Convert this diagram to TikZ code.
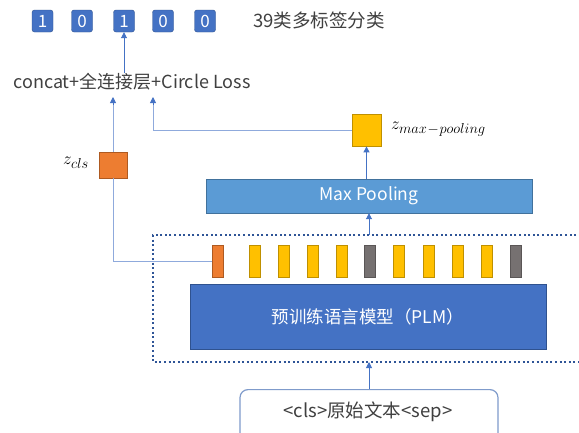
\documentclass[tikz,border=0pt]{standalone}
\usepackage{fontspec}
\setmainfont{Noto Sans CJK SC}
\usetikzlibrary{arrows.meta,calc}
\definecolor{accblue}{HTML}{4472C4}
\definecolor{accblueD}{HTML}{2F528F}
\definecolor{poolblue}{HTML}{5B9BD5}
\definecolor{poolblueD}{HTML}{41719C}
\definecolor{tokorange}{HTML}{ED7D31}
\definecolor{tokorangeD}{HTML}{AE5A21}
\definecolor{tokyellow}{HTML}{FFC000}
\definecolor{tokyellowD}{HTML}{BF9000}
\definecolor{tokgray}{HTML}{767171}
\definecolor{tokgrayD}{HTML}{5A5656}
\definecolor{txtgray}{HTML}{404040}
\definecolor{linkblue}{HTML}{8FAADC}
\definecolor{framblue}{HTML}{2F5597}
\definecolor{inborder}{HTML}{7F9BCB}
\newcommand{\fsz}[1]{\fontsize{#1}{#1}\selectfont}
\begin{document}
\begin{tikzpicture}[x=1pt,y=-1pt,
  bit/.style={draw=accblueD,fill=accblue,rounded corners=2.5pt,minimum width=21pt,minimum height=22pt,inner sep=0pt,text=white,font=\fsz{17}},
  tok/.style={minimum width=11pt,minimum height=32pt,inner sep=0pt,line width=0.8pt},
  tokO/.style={tok,draw=tokorangeD,fill=tokorange},
  tokY/.style={tok,draw=tokyellowD,fill=tokyellow},
  tokG/.style={tok,draw=tokgrayD,fill=tokgray},
  vec/.style={inner sep=0pt,line width=0.8pt},
  arr/.style={draw=accblue,line width=0.9pt,-{Triangle[length=6pt,width=6pt]}},
  link/.style={draw=linkblue,line width=0.9pt},
  lbl/.style={text=txtgray,inner sep=0pt}]
\useasboundingbox (0,0) rectangle (579,432);
\fill[white] (0,0) rectangle (579,432);

% output label vector
\node[bit] (b1) at (42.5,21) {1};
\node[bit] (b2) at (82,21) {0};
\node[bit] (b3) at (124,21) {1};
\node[bit] (b4) at (163,21) {0};
\node[bit] (b5) at (205,21) {0};
\node[lbl,anchor=west,font=\fsz{18.5}] (task) at (253,20) {39类多标签分类};

% classifier head
\node[lbl,font=\fsz{18}] (concat) at (132,82) {concat+全连接层+Circle Loss};
\draw[arr] (concat.north -| b3) -- (b3.south);

% encoder frame
\draw[framblue,line width=2pt,dash pattern=on 2pt off 2.6pt] (590,235) -- (153,235) -- (153,362) -- (590,362);

% pre-trained language model
\node[draw=accblueD,fill=accblue,minimum width=356pt,minimum height=65pt,inner sep=0pt,
      text=white,font=\fsz{17.5}] (plm) at (368,316.5) {预训练语言模型（PLM）};

% token representations
\node[tokO] (t0) at (218,261) {};
\node[tokY] (t1) at (254.5,261) {};
\node[tokY] (t2) at (283.5,261) {};
\node[tokY] (t3) at (312.5,261) {};
\node[tokY] (t4) at (341.5,261) {};
\node[tokG] (t5) at (369.5,261) {};
\node[tokY] (t6) at (398.5,261) {};
\node[tokY] (t7) at (428.5,261) {};
\node[tokY] (t8) at (457.5,261) {};
\node[tokY] (t9) at (486.5,261) {};
\node[tokG] (t10) at (515.5,261) {};

% max pooling
\node[draw=poolblueD,fill=poolblue,minimum width=326pt,minimum height=34pt,inner sep=0pt,
      text=white,font=\fsz{17.5}] (pool) at (369,196) {Max Pooling};
\coordinate (frametop) at (369,235);
\draw[arr] (frametop) -- (pool.south);

% pooled vector
\node[vec,draw=tokyellowD,fill=tokyellow,minimum width=29pt,minimum height=32pt] (zmax) at (366.5,130) {};
\node[anchor=west,inner sep=0pt,font=\fsz{19}] (zmaxl) at (391,129) {$z_{\hbox{\fsz{14}$max\!-\!pooling$}}$};
\draw[arr] (pool.north -| zmax) -- (zmax.south);
\coordinate (in2) at (153,97);
\draw[link] (zmax.west) -| ($(in2)+(0,8)$);
\draw[arr] ($(in2)+(0,8)$) -- (in2);

% [CLS] vector
\node[vec,draw=tokorangeD,fill=tokorange,minimum width=28pt,minimum height=26pt] (zcls) at (113,165) {};
\node[anchor=east,inner sep=0pt,font=\fsz{19}] (zclsl) at (89,163) {$z_{\hbox{\fsz{14}$cls$}}$};
\draw[link] (t0.west) -| (zcls.south);
\coordinate (in1) at (113,97);
\draw[link] (zcls.north) -- ($(in1)+(0,8)$);
\draw[arr] ($(in1)+(0,8)$) -- (in1);

% raw input
\node[draw=inborder,line width=1.2pt,rounded corners=8pt,fill=white,minimum width=258pt,minimum height=52pt,
      anchor=north] (input) at (369,389) {};
\node[lbl,font=\fsz{18.5}] (inputtxt) at (368,412) {<cls>原始文本<sep>};
\coordinate (framebot) at (369,362);
\draw[arr] (input.north) -- (framebot);
\end{tikzpicture}
\end{document}
